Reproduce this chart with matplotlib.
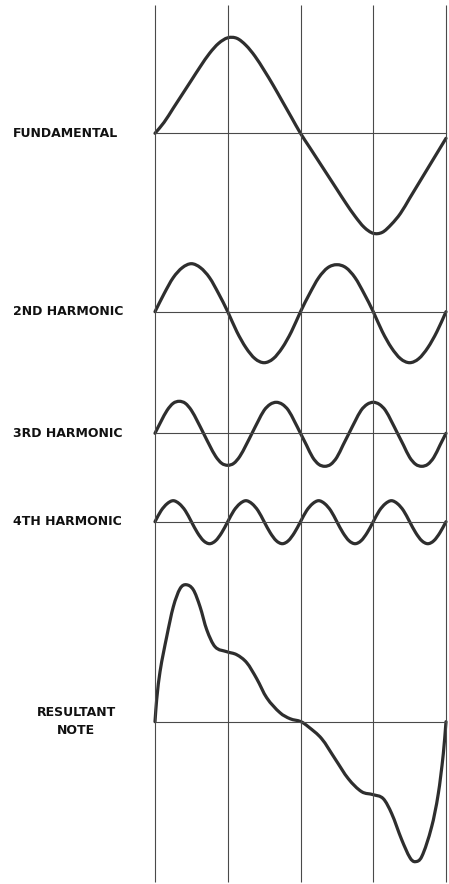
import numpy as np
import matplotlib.pyplot as plt
from matplotlib.path import Path
from matplotlib.patches import PathPatch

# heights of each wave above its own baseline (pixels)
# x is measured in grid cells (0..4) between the vertical lines
fund_x = np.linspace(0, 4, 33)
fund_h = [0, 11, 25, 39, 53, 67, 80, 90, 95.5, 95, 88, 77, 63, 48, 32, 16, 0,
          -14, -28, -42, -56, -70, -83, -94, -100, -99, -91, -80, -65, -50, -35, -20, -5]

second_x = np.linspace(0, 4, 33)
second_h = [0, 18, 34, 44, 48, 44, 34, 18, 0, -20, -36, -47, -51, -47, -36, -20,
            0, 18, 34, 44, 47, 44, 34, 18, 0, -20, -36, -47, -51, -47, -36, -20, 0]

third_x = np.linspace(0, 4, 49)
third_h = [0, 12, 23, 30, 32, 30, 23, 12, 0, -12, -23, -30, -32, -30, -23, -12,
           0, 12, 23, 29, 31, 29, 23, 12, 0, -12, -24, -31, -33, -31, -24, -12,
           0, 12, 23, 29, 31, 29, 23, 12, 0, -12, -24, -31, -33, -31, -24, -12, 0]

fourth_x = np.linspace(0, 4, 49)
fourth_h = [0, 11, 18, 21, 18, 11, 0, -11, -19, -22, -19, -11,
            0, 11, 18, 21, 18, 11, 0, -11, -19, -22, -19, -11,
            0, 11, 18, 21, 18, 11, 0, -11, -19, -22, -19, -11,
            0, 11, 18, 21, 18, 11, 0, -11, -19, -22, -19, -11, 0]

result_x = [0.0, 0.023, 0.069, 0.161, 0.252, 0.344, 0.426, 0.526, 0.619, 0.711,
            0.825, 0.986, 1.123, 1.261, 1.398, 1.535, 1.718, 1.856, 2.007, 2.107,
            2.291, 2.474, 2.657, 2.841, 3.0, 3.138, 3.254, 3.391, 3.505, 3.574,
            3.666, 3.803, 3.894, 3.963, 4.0]
result_h = [0, 22, 50, 85, 115, 133, 137, 132, 115, 92,
            75, 70, 67, 59, 43, 24, 9, 3, 0, -5,
            -17, -37, -57, -70, -73, -77, -92, -118, -136, -140,
            -135, -105, -72, -32, 0]

labels = ['FUNDAMENTAL', '2ND HARMONIC', '3RD HARMONIC', '4TH HARMONIC']
label_y = [133.3, 311.7, 433.3, 521.7]
result_label = 'RESULTANT\nNOTE'


def smooth_path(x, y):
    # cubic hermite through the read points (tangents from neighbours), as beziers
    x = np.asarray(x, dtype=float)
    y = np.asarray(y, dtype=float)
    n = len(x)
    m = np.zeros(n)
    m[1:-1] = (y[2:] - y[:-2]) / (x[2:] - x[:-2])
    m[0] = (y[1] - y[0]) / (x[1] - x[0])
    m[-1] = (y[-1] - y[-2]) / (x[-1] - x[-2])
    verts = [(x[0], y[0])]
    codes = [Path.MOVETO]
    for i in range(n - 1):
        dx = x[i + 1] - x[i]
        verts += [(x[i] + dx / 3, y[i] + m[i] * dx / 3),
                  (x[i + 1] - dx / 3, y[i + 1] - m[i + 1] * dx / 3),
                  (x[i + 1], y[i + 1])]
        codes += [Path.CURVE4] * 3
    return Path(verts, codes)


W, H = 449, 884
x0, cell = 155, 72.75  # left vertical line and grid spacing in pixels

fig = plt.figure(figsize=(W / 100, H / 100), dpi=100)
ax = fig.add_axes([0, 0, 1, 1])
ax.set_xlim(-x0 / cell, (W - x0) / cell)
ax.set_ylim(H, 0)
ax.axis('off')

grid_col = '#4a4a4a'
curve_col = '#2e2e2e'

for k in range(5):
    ax.plot([k, k], [5, 882], color=grid_col, lw=0.8, solid_capstyle='butt')

waves = [(fund_x, fund_h), (second_x, second_h), (third_x, third_h), (fourth_x, fourth_h)]
bases = label_y + [721.7]
for (wx, wh), base in zip(waves + [(result_x, result_h)], bases):
    ax.plot([0, 4], [base, base], color=grid_col, lw=0.8)
    y = base - np.asarray(wh, dtype=float)
    ax.add_patch(PathPatch(smooth_path(wx, y), fill=False,
                           ec=curve_col, lw=2.3, capstyle='round', joinstyle='round'))

font = dict(family='DejaVu Sans', fontsize=9, fontweight='bold', color='#111111')
for lab, ly in zip(labels, label_y):
    fig.text(13 / W, 1 - ly / H, lab, ha='left', va='center', **font)
fig.text(76 / W, 1 - 721.7 / H, result_label, ha='center', va='center',
         linespacing=1.5, **font)

fig.savefig('out.png', dpi=100, facecolor='white')
